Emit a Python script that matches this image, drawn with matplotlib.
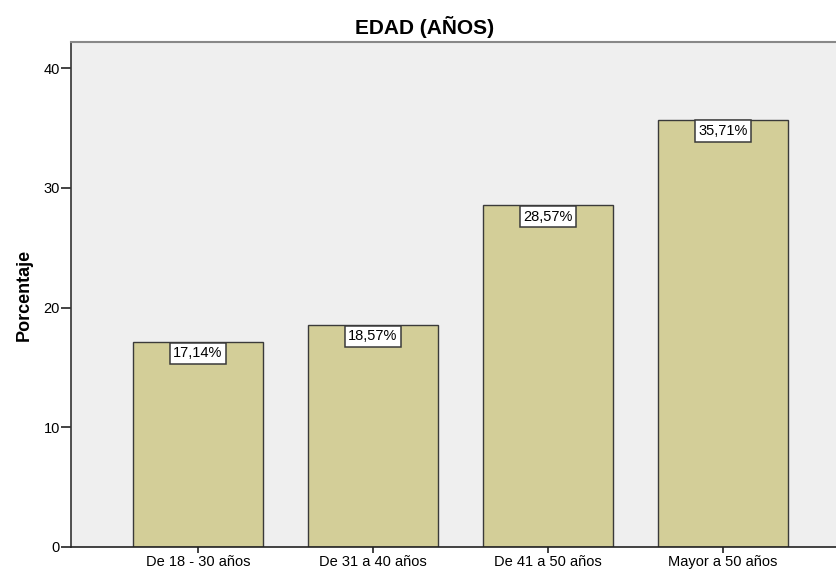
import matplotlib.pyplot as plt

# datos
categorias = ['De 18 - 30 años', 'De 31 a 40 años', 'De 41 a 50 años', 'Mayor a 50 años']
porcentajes = [17.14, 18.57, 28.57, 35.71]
etiquetas = ['17,14%', '18,57%', '28,57%', '35,71%']

plt.rcParams['font.family'] = ['Liberation Sans', 'DejaVu Sans']

fig = plt.figure(figsize=(8.36, 5.72), dpi=100)
ax = fig.add_axes([71 / 836, 25 / 572, 1 - 71 / 836, 505 / 572])
ax.set_facecolor('#EFEFEF')

x = range(len(categorias))
ax.bar(x, porcentajes, width=0.745, color='#D3CE98', edgecolor='#3A3A3A', linewidth=1.0, zorder=2)

for i, (v, t) in enumerate(zip(porcentajes, etiquetas)):
    ax.annotate(t, (i, v), xytext=(0, -3.2), textcoords='offset points',
                ha='center', va='top', fontsize=10.5, zorder=3,
                bbox=dict(boxstyle='square,pad=0.25', fc='white', ec='#3A3A3A', lw=1.1))

ax.set_xlim(-0.726, 3.646)
ax.set_ylim(0, 42.2)
ax.set_yticks([0, 10, 20, 30, 40])
ax.set_xticks(list(x))
ax.set_xticklabels(categorias, fontsize=10.5)
ax.tick_params(axis='y', length=7, width=1.2, labelsize=10.5, pad=1, color='#222222')
ax.tick_params(axis='x', length=4, width=1.2, pad=2, color='#222222')

ax.spines['right'].set_visible(False)
ax.spines['top'].set_color('#888888')
ax.spines['top'].set_linewidth(1.5)
ax.spines['left'].set_color('#333333')
ax.spines['bottom'].set_color('#222222')
ax.spines['left'].set_linewidth(1.2)
ax.spines['bottom'].set_linewidth(1.2)

ax.set_ylabel('Porcentaje', fontsize=13, fontweight='bold', labelpad=8)
fig.text(425 / 836, (572 - 34) / 572, 'EDAD (AÑOS)', ha='center', va='baseline',
         fontsize=15, fontweight='bold')

fig.savefig('out.png', dpi=100)
